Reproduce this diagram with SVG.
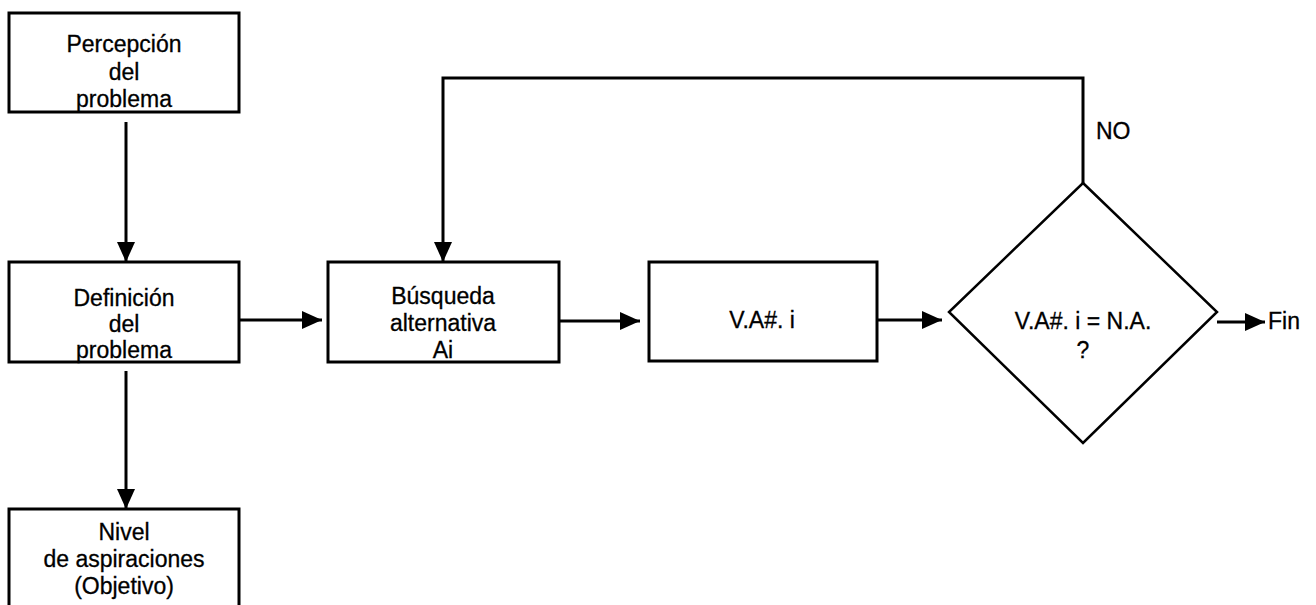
<svg xmlns="http://www.w3.org/2000/svg" width="1316" height="605" viewBox="0 0 1316 605">
<defs>
<marker id="arr" markerUnits="userSpaceOnUse" markerWidth="22" markerHeight="20" refX="20" refY="9" orient="auto">
<path d="M0,0 L20,9 L0,18 z" fill="#000"/>
</marker>
<style>
.box{fill:#fff;stroke:#000;stroke-width:3}
.dia{fill:#fff;stroke:#000;stroke-width:2.5}
.t{font-family:"Liberation Sans",Arial,sans-serif;font-size:23px;fill:#000;stroke:#000;stroke-width:0.3;text-anchor:middle}
.tl{font-family:"Liberation Sans",Arial,sans-serif;font-size:23px;fill:#000;stroke:#000;stroke-width:0.3}
.c{fill:none;stroke:#000;stroke-width:3}
</style>
</defs>
<rect width="1316" height="605" fill="#fff"/>
<g id="connectors">
<line class="c" x1="126" y1="122" x2="126" y2="262" marker-end="url(#arr)"/>
<line class="c" x1="126" y1="371" x2="126" y2="509" marker-end="url(#arr)"/>
<line class="c" x1="239" y1="320" x2="322" y2="320" marker-end="url(#arr)"/>
<line class="c" x1="559" y1="321" x2="640" y2="321" marker-end="url(#arr)"/>
<line class="c" x1="877" y1="320" x2="942" y2="320" marker-end="url(#arr)"/>
<line class="c" x1="1217" y1="322" x2="1265" y2="322" marker-end="url(#arr)"/>
<polyline class="c" points="1083,183 1083,78 443,78 443,262" marker-end="url(#arr)"/>
<text class="tl" x="1096" y="139">NO</text>
</g>
<g id="percepcion">
<rect class="box" x="9" y="13" width="230" height="99"/>
<text class="t" x="124" y="52">Percepción</text>
<text class="t" x="124" y="80">del</text>
<text class="t" x="124" y="107">problema</text>
</g>
<g id="definicion">
<rect class="box" x="9" y="262" width="230" height="100"/>
<text class="t" x="124" y="306">Definición</text>
<text class="t" x="124" y="332">del</text>
<text class="t" x="124" y="358">problema</text>
</g>
<g id="nivel">
<rect class="box" x="9" y="509" width="230" height="110"/>
<text class="t" x="124" y="540">Nivel</text>
<text class="t" x="124" y="567">de aspiraciones</text>
<text class="t" x="124" y="594">(Objetivo)</text>
</g>
<g id="busqueda">
<rect class="box" x="328" y="262" width="231" height="100"/>
<text class="t" x="443" y="304">Búsqueda</text>
<text class="t" x="443" y="331">alternativa</text>
<text class="t" x="443" y="358">Ai</text>
</g>
<g id="va">
<rect class="box" x="649" y="262" width="228" height="99"/>
<text class="t" x="762" y="328">V.A#. i</text>
</g>
<g id="decision">
<polygon class="dia" points="1083,183 1217,312 1083,443 949,312"/>
<text class="t" x="1083" y="329">V.A#. i = N.A.</text>
<text class="t" x="1083" y="358">?</text>
</g>
<g id="fin">
<text class="tl" x="1268" y="329">Fin</text>
</g>
</svg>
